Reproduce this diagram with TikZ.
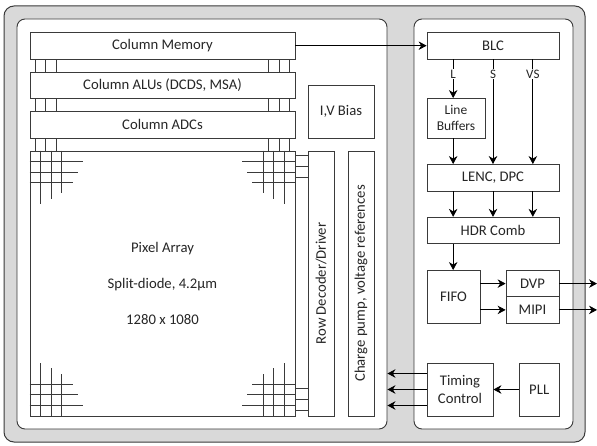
\documentclass[tikz,border=0pt]{standalone}
\usepackage{fontspec}
\setmainfont{Carlito}
\usetikzlibrary{arrows.meta,calc}
\definecolor{isgrey}{HTML}{D9D9D9}
\definecolor{isline}{HTML}{3A3A3A}
\definecolor{istext}{HTML}{262626}
\tikzset{
  outer/.style   = {draw=isline, fill=isgrey, rounded corners=10pt, line width=1pt,
                    inner sep=0pt, minimum width=581pt, minimum height=436pt},
  panel/.style   = {draw=isline, fill=white, rounded corners=8pt, line width=0.9pt,
                    inner sep=0pt, minimum height=410pt},
  block/.style   = {draw=isline, fill=white, line width=0.8pt, align=center, inner sep=0pt,
                    text=istext, font=\fontsize{14.7}{18}\selectfont},
  rotblock/.style= {block, rotate=90},
  flow/.style    = {-{Stealth[length=8pt,width=8.5pt]}, draw=black, line width=0.8pt},
  wire/.style    = {draw=isline, line width=0.9pt},
  lbl/.style     = {font=\fontsize{13}{13}\selectfont, fill=white, inner sep=1pt, text=istext},
}
\begin{document}
\begin{tikzpicture}[x=1pt,y=-1pt]
  \useasboundingbox (0,0) rectangle (597,446);

  % ---------- panels ----------
  \node[outer] (chip) at (294.5,224) {};
  \node[panel, minimum width=370pt] (analog) at (202,224) {};
  \node[panel, minimum width=159pt] (digital) at (493.5,224) {};

  % ---------- analog side ----------
  \node[block, minimum width=265pt, minimum height=26.5pt] (mem)  at (162.5,45.7) {Column Memory};
  \node[block, minimum width=265pt, minimum height=26.5pt] (alu)  at (162.5,85.2) {Column ALUs (DCDS, MSA)};
  \node[block, minimum width=265pt, minimum height=26.5pt] (adc)  at (162.5,124.7) {Column ADCs};
  \node[block, minimum width=265pt, minimum height=265pt,
        font=\fontsize{14.7}{36}\selectfont] (pix) at (162.5,283.5)
       {Pixel Array\\Split-diode, 4.2µm\\1280 x 1080};
  \node[block, minimum width=66pt, minimum height=53pt] (bias) at (341,111.5) {I,V Bias};
  \node[rotblock, minimum width=265pt, minimum height=26pt] (row) at (321,283.5) {Row Decoder/Driver};
  \node[rotblock, minimum width=265pt, minimum height=26pt] (pump) at (361,283.5) {Charge pump, voltage references};

  % ties between the column blocks
  \foreach \a/\b in {mem/alu,alu/adc,adc/pix} {
    \foreach \dx in {5.5,16,26.5} {
      \coordinate (tieL) at ($(\a.south west)+(\dx,0)$);
      \coordinate (tieR) at ($(\a.south east)-(\dx,0)$);
      \draw[wire] (tieL) -- (tieL |- \b.north);
      \draw[wire] (tieR) -- (tieR |- \b.north);
    }
  }

  % pixel array corners
  \foreach \d/\lng in {11/53,21.5/48,32/42} {
    \draw[wire] ($(pix.north west)+(\d,0)$) -- ++(0,\lng);
    \draw[wire] ($(pix.north east)-(\d,0)$) -- ++(0,\lng);
    \draw[wire] ($(pix.south west)+(\d,0)$) -- ++(0,-\lng);
    \draw[wire] ($(pix.south east)-(\d,0)$) -- ++(0,-\lng);
  }
  \foreach \d/\lng in {11/53,21.5/48,32/43} {
    \draw[wire] ($(pix.north west)+(0,\d)$) -- ++(\lng,0);
    \draw[wire] ($(pix.north east)+(0,\d)$) -- ++(-\lng,0);
    \draw[wire] ($(pix.south west)-(0,\d)$) -- ++(\lng,0);
    \draw[wire] ($(pix.south east)-(0,\d)$) -- ++(-\lng,0);
  }

  % array to row decoder
  \foreach \d in {5,16,27} {
    \coordinate (rowT) at ($(pix.north east)+(0,\d)$);
    \coordinate (rowB) at ($(pix.south east)-(0,\d+0.5)$);
    \draw[wire] (rowT) -- (rowT -| row.north);
    \draw[wire] (rowB) -- (rowB -| row.north);
  }

  % ---------- digital side ----------
  \node[block, minimum width=132pt, minimum height=26.5pt] (blc)  at (493,45.7) {BLC};
  \node[block, minimum width=58pt, minimum height=39.5pt,
        font=\fontsize{13.5}{16}\selectfont] (lbuf) at (456,118.2) {Line\\Buffers};
  \node[block, minimum width=132pt, minimum height=26.5pt] (lenc) at (493,177.7) {LENC, DPC};
  \node[block, minimum width=132pt, minimum height=26.5pt] (hdr)  at (493,230.5) {HDR Comb};
  \node[block, minimum width=53pt, minimum height=52.5pt] (fifo) at (453.5,296.7) {FIFO};
  \node[block, minimum width=53pt, minimum height=26.3pt] (dvp)  at (532.5,283.6) {DVP};
  \node[block, minimum width=53pt, minimum height=26.3pt] (mipi) at (532.5,309.9) {MIPI};
  \node[block, minimum width=66pt, minimum height=53pt] (tim)  at (460,389.5) {Timing\\Control};
  \node[block, minimum width=39.5pt, minimum height=53pt] (pll) at (539.2,389.5) {PLL};

  \coordinate (colL) at ($(blc.south west)!0.2!(blc.south east)$);
  \coordinate (colS) at ($(blc.south west)!0.5!(blc.south east)$);
  \coordinate (colV) at ($(blc.south west)!0.8!(blc.south east)$);

  % ---------- arrows ----------
  \draw[flow] (mem.east) -- (blc.west);
  \draw[flow] (colL) -- node[lbl, pos=0.38] {L} (colL |- lbuf.north);
  \draw[flow] (colL |- lbuf.south) -- (colL |- lenc.north);
  \draw[flow] (colS) -- node[lbl, pos=0.14] {S} (colS |- lenc.north);
  \draw[flow] (colV) -- node[lbl, pos=0.14] {VS} (colV |- lenc.north);
  \foreach \c in {colL,colS,colV} {
    \draw[flow] (\c |- lenc.south) -- (\c |- hdr.north);
  }
  \draw[flow] (colL |- hdr.south) -- (colL |- fifo.north);
  \draw[flow] (fifo.east |- dvp.west) -- (dvp.west);
  \draw[flow] (fifo.east |- mipi.west) -- (mipi.west);
  \coordinate (outDvp) at (597,283.6);
  \coordinate (outMipi) at (597,309.9);
  \draw[flow] (dvp.east) -- (outDvp);
  \draw[flow] (mipi.east) -- (outMipi);
  \draw[flow] (pll.west) -- (tim.east);
  \foreach \d in {-16,0,16} {
    \coordinate (timOut) at ($(tim.west)+(0,\d)$);
    \draw[flow] (timOut) -- (timOut -| analog.east);
  }
\end{tikzpicture}
\end{document}
